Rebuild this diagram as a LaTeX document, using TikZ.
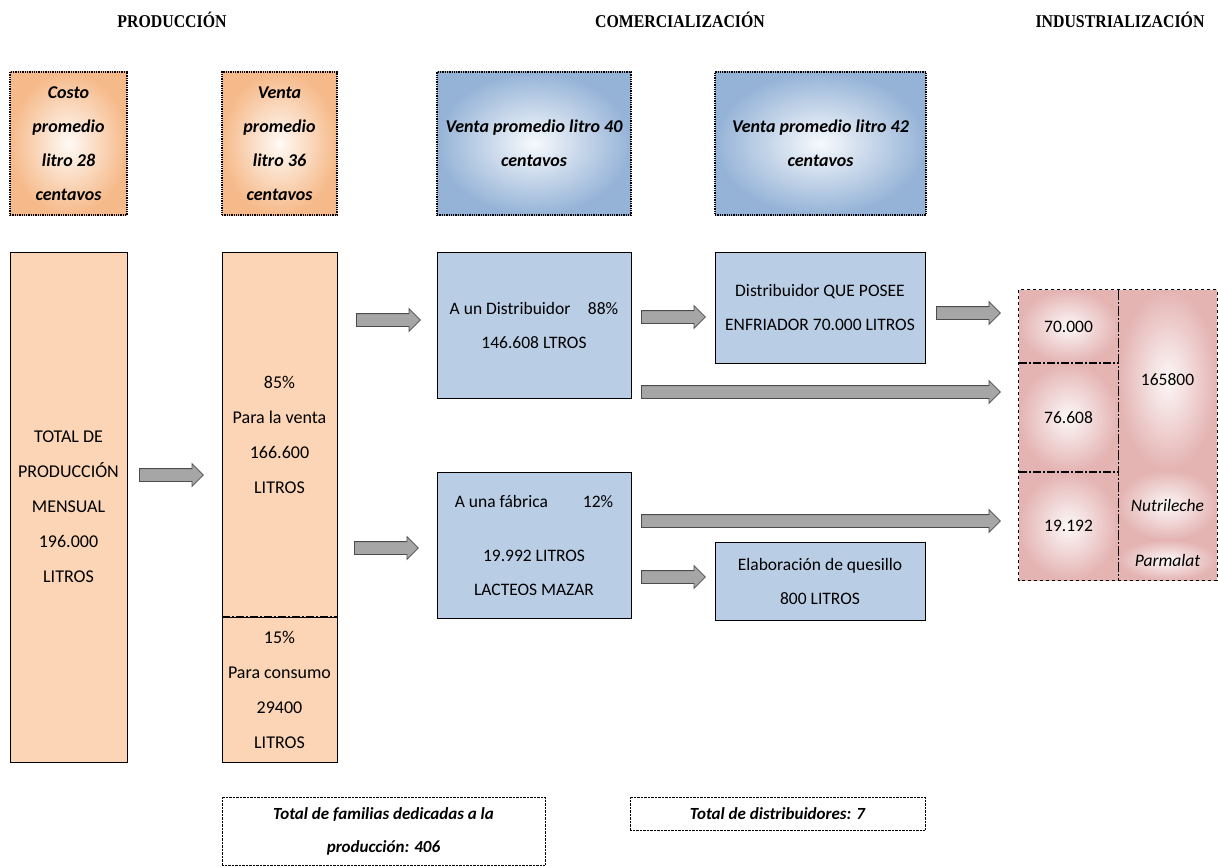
\documentclass[tikz,border=0pt]{standalone}
\usepackage{fontspec}
\setmainfont{Carlito}
\newfontfamily\titlefont[FakeStretch=0.88]{Liberation Serif}
\usetikzlibrary{positioning,shapes.arrows}
\definecolor{durazno}{RGB}{251,213,181}
\definecolor{durazno2}{RGB}{246,186,138}
\definecolor{celeste}{RGB}{185,205,229}
\definecolor{celeste2}{RGB}{149,179,215}
\definecolor{rosa}{RGB}{228,180,179}
\definecolor{flechagris}{RGB}{166,166,166}
\tikzset{
  titulo/.style={font=\titlefont\bfseries\fontsize{18}{20}\selectfont},
  costbox/.style={shade, inner color=durazno2!8!white, outer color=durazno2, draw, densely dotted, line width=1.3pt,
    align=center, font=\bfseries\itshape\fontsize{18}{34}\selectfont, inner sep=0pt},
  pricebox/.style={costbox, inner color=celeste2!8!white, outer color=celeste2},
  prodbox/.style={draw, fill=durazno, align=center, font=\fontsize{18}{35}\selectfont, inner sep=0pt},
  distbox/.style={draw, fill=celeste, align=center, font=\fontsize{17.5}{34}\selectfont, inner sep=0pt},
  indbox/.style={shade, inner color=rosa!10!white, outer color=rosa, align=center, font=\fontsize{17.5}{20}\selectfont, inner sep=0pt},
  totbox/.style={draw, densely dotted, align=center, font=\bfseries\itshape\fontsize{17}{33}\selectfont, inner sep=0pt},
  flecha/.style={single arrow, draw=black!70, fill=flechagris, line width=0.8pt, inner sep=1pt, anchor=tail,
    text height=5pt, text depth=5pt, single arrow head extend=5pt, single arrow tip angle=90},
  corte/.style={line width=1.5pt, dash pattern=on 8pt off 2pt on 2pt off 2pt},
}
\begin{document}
\begin{tikzpicture}[x=1pt,y=-1pt]
\useasboundingbox (0,0) rectangle (1218,867);
% titulos
\node[titulo] (tprod) at (172,20) {PRODUCCIÓN};
\node[titulo] (tcom) at (680,20) {COMERCIALIZACIÓN};
\node[titulo] (tind) at (1120,20) {INDUSTRIALIZACIÓN};
% precios
\node[costbox, minimum width=117pt, minimum height=143pt] (costo) at (68.5,143.5) {Costo\\promedio\\litro 28\\centavos};
\node[costbox, minimum width=115pt, minimum height=143pt] (venta36) at (279.5,143.5) {Venta\\promedio\\litro 36\\centavos};
\node[pricebox, minimum width=194pt, minimum height=143pt] (venta40) at (534,143.5) {Venta promedio litro 40\\centavos};
\node[pricebox, minimum width=211pt, minimum height=143pt] (venta42) at (820.5,143.5) {Venta promedio litro 42\\centavos};
% produccion
\node[prodbox, minimum width=117pt, minimum height=510pt] (total) at (68.5,507) {TOTAL DE\\PRODUCCIÓN\\MENSUAL\\196.000\\LITROS};
\node[prodbox, minimum width=115pt, minimum height=365pt] (venta) at (279.5,434.5) {85\%\\Para la venta\\166.600\\LITROS};
\node[prodbox, minimum width=115pt, minimum height=145pt] (consumo) at (279.5,689.5) {15\%\\Para consumo\\29400\\LITROS};
\draw[corte] (venta.south west) -- (venta.south east);
% comercializacion
\node[distbox, minimum width=194pt, minimum height=146pt] (distrib) at (534,325) {A un Distribuidor\quad 88\%\\146.608 LTROS};
\node[distbox, minimum width=210pt, minimum height=111pt] (enfriador) at (820,307.5) {Distribuidor QUE POSEE\\ENFRIADOR 70.000 LITROS};
\node[distbox, minimum width=194pt, minimum height=146pt] (fabrica) at (534,545) {A una fábrica\qquad 12\%\\[20pt]19.992 LITROS\\LACTEOS MAZAR};
\node[distbox, minimum width=210pt, minimum height=78pt] (quesillo) at (820,581) {Elaboración de quesillo\\800 LITROS};
% industrializacion
\node[indbox, minimum width=99pt, minimum height=73pt] (c70) at (1068.5,326.5) {70.000};
\node[indbox, minimum width=99pt, minimum height=109pt] (c76) at (1068.5,417.5) {76.608};
\node[indbox, minimum width=99pt, minimum height=108pt] (c19) at (1068.5,526) {19.192};
\node[indbox, minimum width=99pt, minimum height=180pt] (c165) at (1167.5,380) {165800};
\node[indbox, minimum width=99pt, minimum height=70pt, font=\itshape\fontsize{17.5}{20}\selectfont] (nutri) at (1167.5,505) {Nutrileche};
\node[indbox, minimum width=99pt, minimum height=40pt, font=\itshape\fontsize{17.5}{20}\selectfont] (parma) at (1167.5,560) {Parmalat};
\draw[dashed, line width=0.9pt] (c70.north west) rectangle (parma.south east);
\draw[corte] (c70.south west) -- (c70.south east);
\draw[corte] (c76.south west) -- (c76.south east);
\draw[line width=1.2pt, dash pattern=on 10pt off 2pt on 2pt off 2pt] (c70.north east) -- (c19.south east);
% flechas
\node[flecha, minimum height=64pt] (f1) at (139,475) {};
\node[flecha, minimum height=64pt] (f2) at (356,320) {};
\node[flecha, minimum height=64pt] (f3) at (354,548) {};
\node[flecha, minimum height=64pt] (f4) at (641,317) {};
\node[flecha, minimum height=64pt] (f5) at (936,313) {};
\node[flecha, minimum height=359pt] (f6) at (641,392) {};
\node[flecha, minimum height=359pt] (f7) at (641,521) {};
\node[flecha, minimum height=64pt] (f8) at (641,577) {};
% totales
\node[totbox, minimum width=323pt, minimum height=68pt] (familias) at (383.5,831) {Total de familias dedicadas a la\\producción: 406};
\node[totbox, minimum width=295pt, minimum height=33pt] (distribuidores) at (777.5,813.5) {Total de distribuidores: 7};
\end{tikzpicture}
\end{document}
